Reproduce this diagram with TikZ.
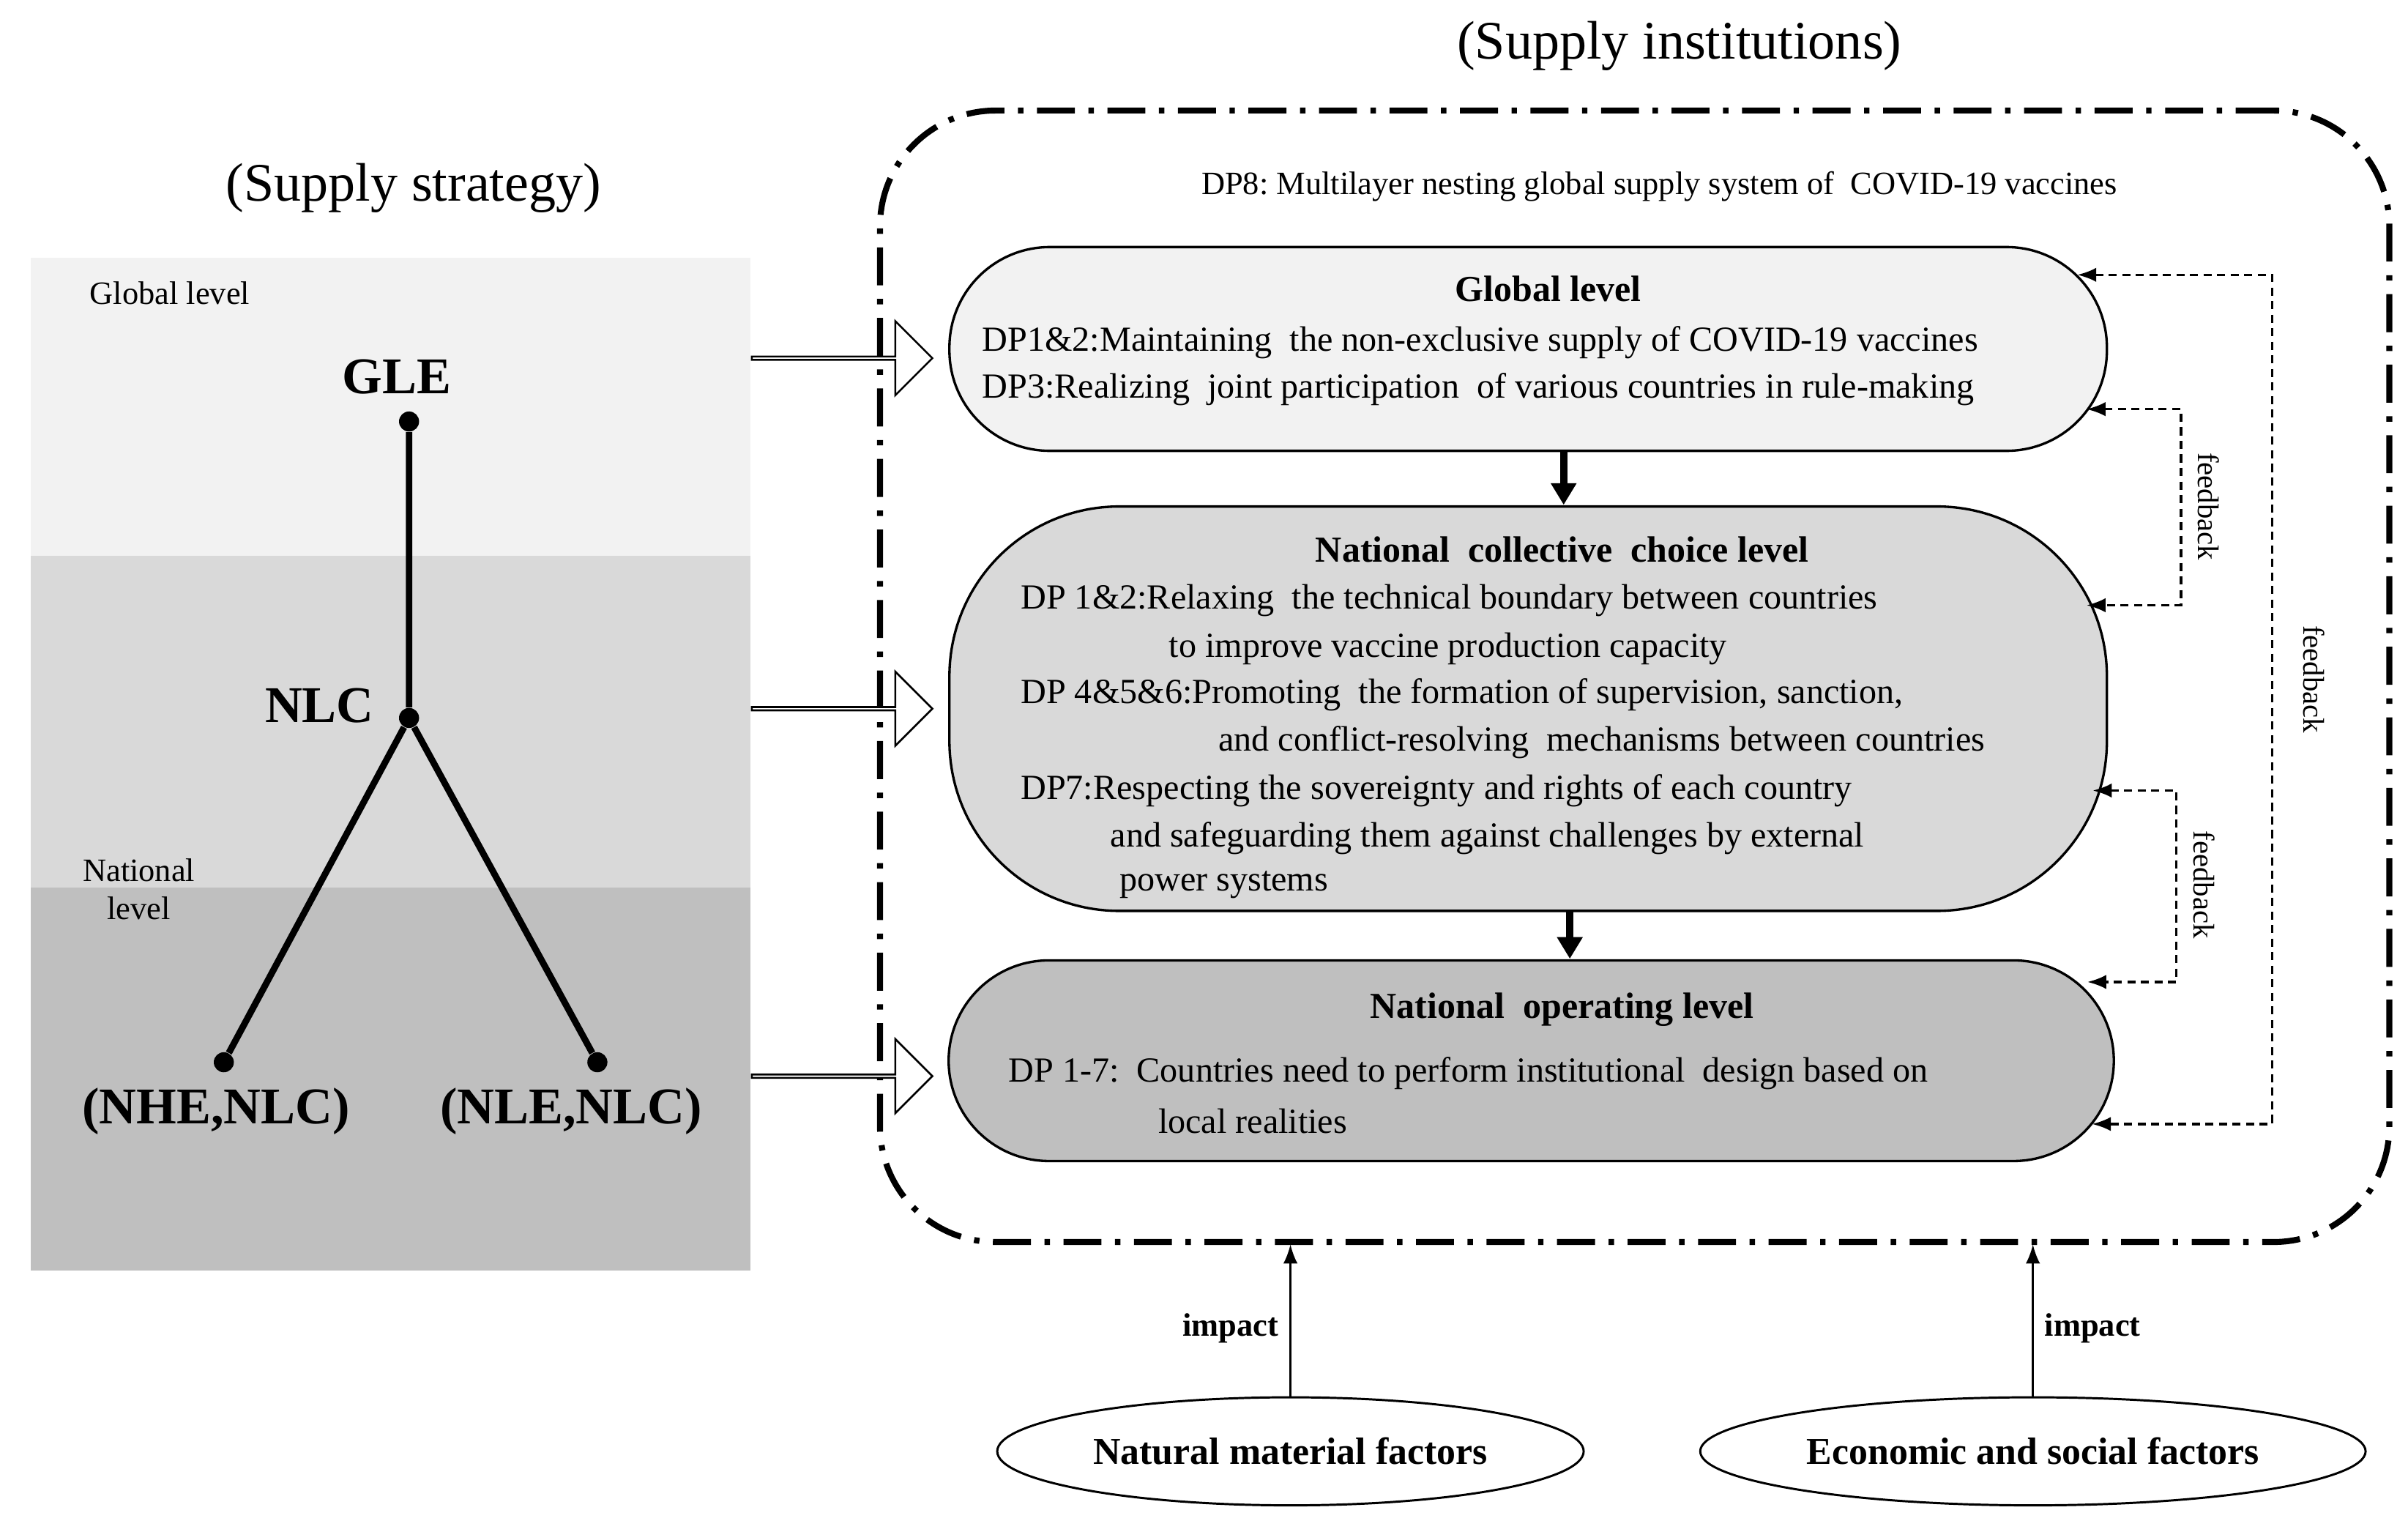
\documentclass[tikz,border=0pt]{standalone}
\usepackage{fontspec}
\setmainfont{Liberation Serif}
\usetikzlibrary{positioning,shapes.geometric,shapes.arrows,arrows.meta}
\definecolor{bandA}{gray}{0.95}
\definecolor{bandB}{gray}{0.85}
\definecolor{bandC}{gray}{0.75}
\tikzset{
  txt/.style = {font=\fontsize{13}{15}\selectfont, inner sep=0pt},
  ttl/.style = {font=\bfseries\fontsize{13.5}{15}\selectfont, inner sep=0pt},
  tree/.style = {font=\bfseries\fontsize{19}{21}\selectfont, inner sep=0pt},
  dot/.style = {circle, fill, inner sep=0pt, minimum size=0.26cm},
  level/.style = {draw, line width=0.9pt, rounded corners=#1, minimum width=15cm},
  block/.style = {single arrow, draw, fill=white, line width=0.7pt, minimum height=2.34cm,
                  minimum width=0.96cm, single arrow head extend=0.26cm, inner sep=0pt},
  fb/.style = {densely dashed, line width=0.9pt, {Latex[length=7pt]}-{Latex[length=7pt]}},
  fblabel/.style = {txt, rotate=-90, font=\fontsize{11}{13}\selectfont},
  factor/.style = {ellipse, draw, line width=0.8pt, font=\bfseries\fontsize{14}{16}\selectfont}
}
\begin{document}
\begin{tikzpicture}[x=0.02cm, y=-0.02cm]
\useasboundingbox (0,0) rectangle (1560,985);
% left panel
\fill[bandA] (20,167) rectangle (486,360);
\fill[bandB] (20,360) rectangle (486,575);
\fill[bandC] (20,575) rectangle (486,823);
\node[txt, font=\fontsize{20}{22}\selectfont] (strategy) at (268,122) {(Supply strategy)};
\node[txt, font=\fontsize{12}{14}\selectfont] (glob) at (110,190) {Global level};
\node[txt, font=\fontsize{12}{14}\selectfont, align=center] (nat) at (90,576) {National\\level};
% tree
\node[dot] (d0) at (265,273) {};
\node[dot] (d1) at (265,465) {};
\node[dot] (d2) at (145,688) {};
\node[dot] (d3) at (387,688) {};
\node[tree] (gle) at (257,244) {GLE};
\node[tree] (nlc) at (207,457) {NLC};
\node[tree] (nhe) at (140,720) {(NHE,NLC)};
\node[tree] (nle) at (370,720) {(NLE,NLC)};
\draw[line width=2.4pt] (d0) -- (d1) -- (d2);
\draw[line width=2.4pt] (d1) -- (d3);
% institutions
\node[txt, font=\fontsize{20}{22}\selectfont] (inst) at (1088,30) {(Supply institutions)};
\node[draw, line width=2.2pt, rounded corners=1.5cm, minimum width=19.56cm, minimum height=14.66cm,
      dash pattern=on 14pt off 5pt on 2pt off 5pt] (outer) at (1059,438) {};
\node[txt, font=\fontsize{12}{14}\selectfont] (dp8) at (1075,121) {DP8:\ Multilayer nesting global supply system of\ \ COVID-19 vaccines};
\node[level=1.3cm, fill=bandA, minimum height=2.64cm] (gbox) at (990,226) {};
\node[level=2.2cm, fill=bandB, minimum height=5.24cm] (cbox) at (990,459) {};
\node[level=1.3cm, fill=bandC, minimum height=2.6cm, minimum width=15.1cm] (obox) at (992,687) {};
% global text
\node[ttl] (gt) at (1003,187) {Global level};
\node[txt, anchor=west] (g1) at (636,222) {DP1\&2:Maintaining\ \ the non-exclusive supply of COVID-19 vaccines};
\node[txt, anchor=west] (g2) at (636,252) {DP3:Realizing\ \ joint participation\ \ of various countries in rule-making};
% collective text
\node[ttl] (ct) at (1012,356) {National\ \ collective\ \ choice level};
\node[txt, anchor=west] (c1) at (661,389) {DP 1\&2:Relaxing\ \ the technical boundary between countries};
\node[txt, anchor=west] (c2) at (757,420) {to improve vaccine production capacity};
\node[txt, anchor=west] (c3) at (661,450) {DP 4\&5\&6:Promoting\ \ the formation of supervision, sanction,};
\node[txt, anchor=west] (c4) at (789,481) {and conflict-resolving\ \ mechanisms between countries};
\node[txt, anchor=west] (c5) at (661,512) {DP7:Respecting the sovereignty and rights of each country};
\node[txt, anchor=west] (c6) at (719,543) {and safeguarding them against challenges by external};
\node[txt, anchor=west] (c7) at (725,573) {power systems};
% operating text
\node[ttl] (ot) at (1012,654) {National\ \ operating level};
\node[txt, anchor=west] (o1) at (653,695) {DP 1-7:\ \ Countries need to perform institutional\ \ design based on};
\node[txt, anchor=west] (o2) at (750,726) {local realities};
% block arrows
\node[block] (b1) at (545,232) {};
\node[block] (b2) at (545,459) {};
\node[block] (b3) at (545,697) {};
% downward arrows
\draw[line width=2.6pt, -{Triangle[length=8pt,width=9pt]}] (1013,292) -- (1013,327);
\draw[line width=2.6pt, -{Triangle[length=8pt,width=9pt]}] (1017,590) -- (1017,621);
% feedback loops
\coordinate (f1a) at (1413,265); \coordinate (f1b) at (1413,392);
\coordinate (f2a) at (1410,512); \coordinate (f2b) at (1410,636);
\coordinate (f3a) at (1472,178); \coordinate (f3b) at (1472,728);
\draw[fb] (gbox.east |- f1a) ++(-14,0) -- (f1a) -- (f1b) -- ([xshift=-14*0.02cm]cbox.east |- f1b);
\draw[fb] ([xshift=-10*0.02cm]cbox.east |- f2a) -- (f2a) -- (f2b) -- ([xshift=-18*0.02cm]obox.east |- f2b);
\draw[fb] ([xshift=-20*0.02cm]gbox.east |- f3a) -- (f3a) -- (f3b) -- ([xshift=-15*0.02cm]obox.east |- f3b);
\node[fblabel] (l1) at (1431,328) {feedback};
\node[fblabel] (l2) at (1428,573) {feedback};
\node[fblabel] (l3) at (1499,440) {feedback};
% factors
\node[factor, minimum width=7.6cm, minimum height=1.4cm] (nat) at (836,940) {Natural material factors};
\node[factor, minimum width=8.5cm, minimum height=1.4cm] (eco) at (1317,940) {Economic and social factors};
\coordinate (i1) at (836,806); \coordinate (i2) at (1317,806);
\draw[line width=0.7pt, -{Latex[length=7pt]}] (nat) -- (i1) node[pos=0.45, left=4pt, ttl, font=\bfseries\fontsize{12}{14}\selectfont] {impact};
\draw[line width=0.7pt, -{Latex[length=7pt]}] (eco) -- (i2) node[pos=0.45, right=4pt, ttl, font=\bfseries\fontsize{12}{14}\selectfont] {impact};
\end{tikzpicture}
\end{document}
